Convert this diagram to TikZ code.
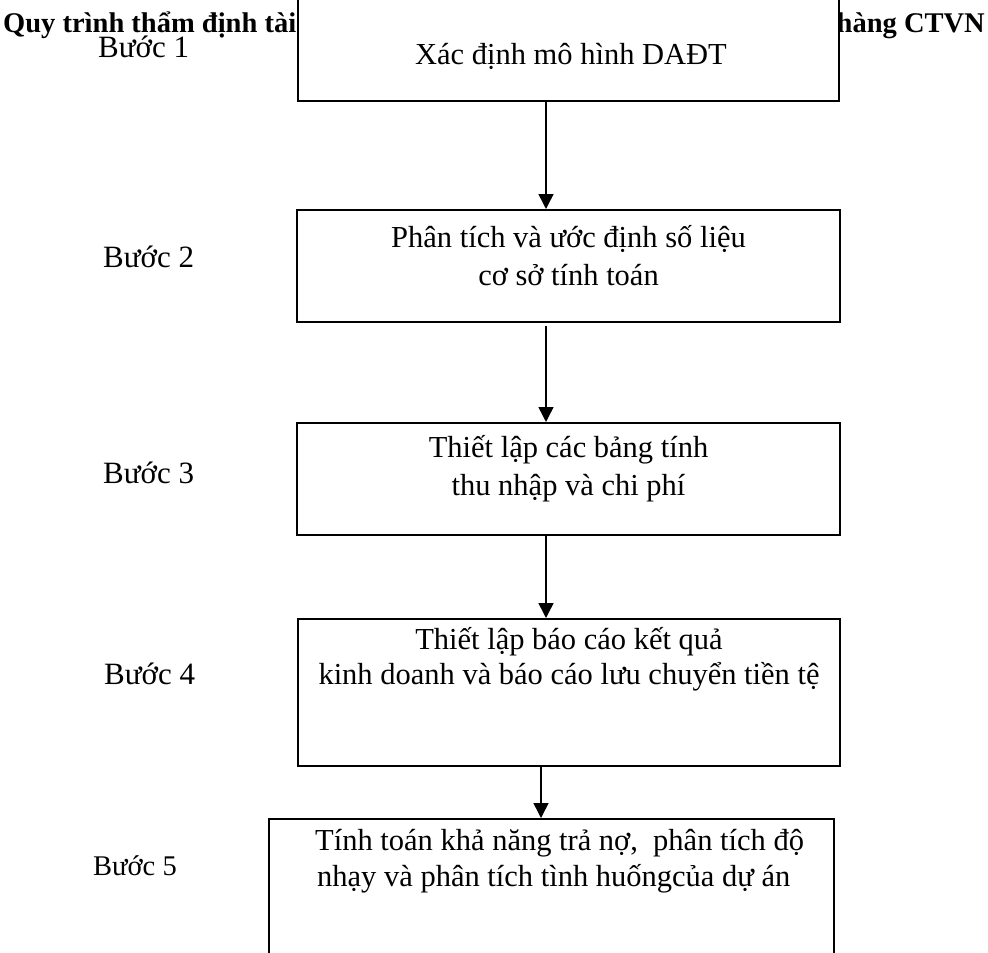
\documentclass[tikz,border=0pt]{standalone}
\usepackage{fontspec}
\setmainfont{Liberation Serif}
\usetikzlibrary{arrows.meta}
\begin{document}
\begin{tikzpicture}[x=1pt,y=-1pt,
  boxnode/.style={draw=black, line width=2pt, fill=white, inner sep=0pt, rectangle},
  txt/.style={inner sep=0pt, anchor=base, font=\fontsize{30.5}{36}\selectfont},
  txtl/.style={inner sep=0pt, anchor=base west, font=\fontsize{30.5}{36}\selectfont},
  steplabel/.style={inner sep=0pt, anchor=base west, font=\fontsize{31}{36}\selectfont},
  ttl/.style={inner sep=0pt, font=\bfseries\fontsize{28.5}{34}\selectfont},
  arr/.style={line width=1.5pt, -{Triangle[width=15pt,length=15pt]}}]
\useasboundingbox (0,0) rectangle (988,953);
\clip (0,0) rectangle (988,953);
\fill[white] (0,0) rectangle (988,953);

% title (partly hidden behind box 1)
\node[ttl, anchor=base west] (ttlL) at (3,32) {Quy trình thẩm định tài};
\node[ttl, anchor=base east] (ttlR) at (985,32) {hàng CTVN};

% boxes
\node[boxnode, minimum width=541pt, minimum height=121pt] (b1) at (568.5,40.5) {};
\node[boxnode, minimum width=543pt, minimum height=112pt] (b2) at (568.5,266) {};
\node[boxnode, minimum width=543pt, minimum height=112pt] (b3) at (568.5,479) {};
\node[boxnode, minimum width=542pt, minimum height=147pt] (b4) at (569,692.5) {};
\node[boxnode, minimum width=565pt, minimum height=181pt] (b5) at (551.5,909.5) {};

% box texts
\node[txt] (t1) at (571,64) {Xác định mô hình DAĐT};
\node[txt] (t2a) at (568.5,247) {Phân tích và ước định số liệu};
\node[txt] (t2b) at (568.5,285) {cơ sở tính toán};
\node[txt] (t3a) at (568.5,457) {Thiết lập các bảng tính};
\node[txt] (t3b) at (568.5,495) {thu nhập và chi phí};
\node[txt] (t4a) at (569,649) {Thiết lập báo cáo kết quả};
\node[txt] (t4b) at (569,684) {kinh doanh và báo cáo lưu chuyển tiền tệ};
\node[txtl] (t5a) at (315,850) {Tính toán khả năng trả nợ,\ \ phân tích độ};
\node[txtl] (t5b) at (317,886) {nhạy và phân tích tình huốngcủa dự án};

% step labels
\node[steplabel] (s1) at (98,57) {Bước 1};
\node[steplabel] (s2) at (103,267) {Bước 2};
\node[steplabel] (s3) at (103,483) {Bước 3};
\node[steplabel] (s4) at (104,684) {Bước 4};
\node[steplabel, font=\fontsize{28.5}{34}\selectfont] (s5) at (93,875) {Bước 5};

% connectors
\coordinate (ax) at (546,0);
\coordinate (ax4) at (541,0);
\draw[arr] (b1.south -| ax) -- (b2.north -| ax);
\draw[arr] ([yshift=-3pt]b2.south -| ax) -- (b3.north -| ax);
\draw[arr] (b3.south -| ax) -- (b4.north -| ax);
\draw[arr] (b4.south -| ax4) -- (b5.north -| ax4);
\end{tikzpicture}
\end{document}
